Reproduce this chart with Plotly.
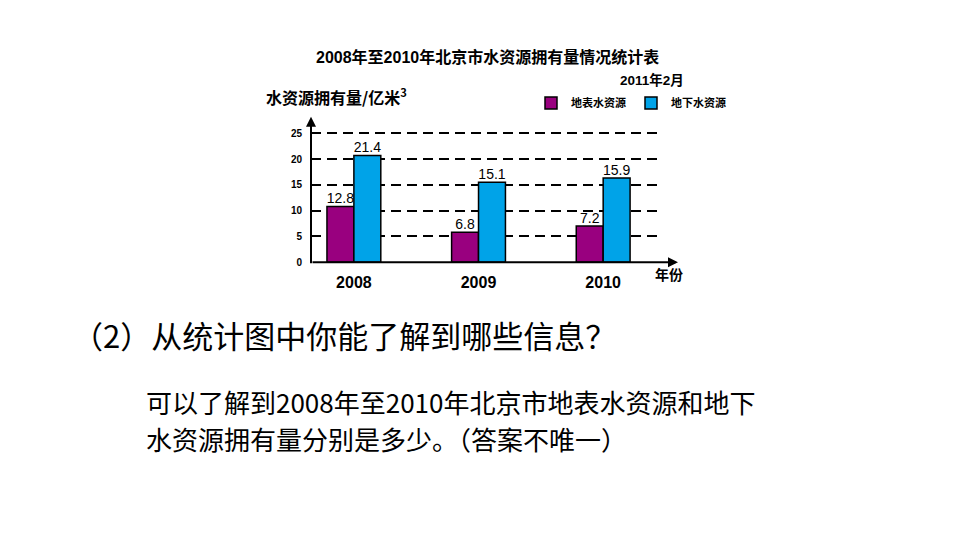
import plotly.graph_objects as go

W, H = 960, 540
# the page body shifts the figure a little from the window corner
OFF_X, OFF_Y = 8, 4

years = ["2008", "2009", "2010"]
# label values printed above the bars
surface_labels = ["12.8", "6.8", "7.2"]
ground_labels = ["21.4", "15.1", "15.9"]
# bar heights as drawn in the source chart
surface_heights = [10.8, 5.8, 7.0]
ground_heights = [20.7, 15.5, 16.3]
y_ticks = [0, 5, 10, 15, 20, 25]

PURPLE = "#99007f"
BLUE = "#00a3e8"
FONT = "Liberation Sans, Noto Sans CJK SC, sans-serif"
CJK = "Noto Sans CJK SC, sans-serif"


def px(x):
    return (x - OFF_X) / W


def py(y):
    return 1 - (y - OFF_Y) / H


x_pos = list(range(len(years)))
bar_w = 0.216

fig = go.Figure()
for name, heights, color, offset in [
    ("地表水资源", surface_heights, PURPLE, -bar_w),
    ("地下水资源", ground_heights, BLUE, 0),
]:
    fig.add_trace(
        go.Bar(
            x=x_pos,
            y=heights,
            width=bar_w,
            offset=offset,
            name=name,
            marker={"color": color, "line": {"color": "black", "width": 1.5}},
        )
    )

# value labels on top of everything
for heights, labels, shift in [
    (surface_heights, surface_labels, -bar_w / 2),
    (ground_heights, ground_labels, bar_w / 2),
]:
    fig.add_trace(
        go.Scatter(
            x=[p + shift for p in x_pos],
            y=heights,
            mode="text",
            text=labels,
            textposition="top center",
            textfont={"family": FONT, "size": 14, "color": "black"},
            showlegend=False,
            hoverinfo="skip",
            cliponaxis=False,
        )
    )

x_range = [-0.344, 2.48]
y_range = [0, 28]

fig.update_layout(
    width=W,
    height=H,
    margin={"l": 0, "r": 0, "t": 0, "b": 0},
    paper_bgcolor="white",
    plot_bgcolor="white",
    barmode="overlay",
    showlegend=True,
    legend={
        "orientation": "h",
        "x": px(531),
        "y": py(100),
        "xanchor": "left",
        "yanchor": "middle",
        "font": {"family": CJK, "size": 11, "color": "black", "weight": "bold"},
        "itemwidth": 30,
        "tracegroupgap": 0,
        "bgcolor": "rgba(0,0,0,0)",
    },
    xaxis={
        "domain": [px(311), px(663)],
        "range": x_range,
        "tickvals": x_pos,
        "ticktext": years,
        "showgrid": False,
        "zeroline": False,
        "showline": False,
        "ticks": "outside",
        "ticklen": 6,
        "tickcolor": "rgba(0,0,0,0)",
        "tickfont": {"family": FONT, "size": 16, "color": "black", "weight": "bold"},
    },
    yaxis={
        "domain": [py(261), py(115)],
        "range": y_range,
        "tickvals": y_ticks,
        "showgrid": True,
        "gridcolor": "black",
        "gridwidth": 1.5,
        "griddash": "10px,6px",
        "zeroline": False,
        "showline": False,
        "ticks": "outside",
        "ticklen": 6,
        "tickcolor": "rgba(0,0,0,0)",
        "tickfont": {"family": FONT, "size": 10, "color": "black", "weight": "bold"},
    },
)

# axes drawn as arrows
fig.add_annotation(
    x=px(678), y=py(261), xref="paper", yref="paper",
    ax=-367, ay=0, showarrow=True, arrowhead=2, arrowsize=1,
    arrowwidth=2, arrowcolor="black", text="",
)
fig.add_annotation(
    x=px(311), y=py(114), xref="paper", yref="paper",
    ax=0, ay=148, showarrow=True, arrowhead=2, arrowsize=1,
    arrowwidth=2, arrowcolor="black", text="",
)

texts = [
    ("2008年至2010年北京市水资源拥有量情况统计表", 487, 54, 16, "center", True, FONT),
    ("2011年2月", 686, 77, 13.5, "right", True, FONT),
    ("水资源拥有量/亿米<sup>3</sup>", 264, 94, 16, "left", True, CJK),
    ("年份", 653, 273, 14, "left", True, CJK),
    ("（2）从统计图中你能了解到哪些信息？", 70, 334, 31, "left", False, CJK),
    ("可以了解到2008年至2010年北京市地表水资源和地下", 144, 402, 26, "left", False, CJK),
    ("水资源拥有量分别是多少。（答案不唯一）", 144, 439, 26, "left", False, CJK),
]
for text, x, y, size, anchor, bold, family in texts:
    fig.add_annotation(
        x=px(x), y=py(y), xref="paper", yref="paper",
        text=text, showarrow=False, xanchor=anchor, yanchor="middle",
        font={"family": family, "size": size, "color": "black",
              "weight": "bold" if bold else "normal"},
    )

fig.write_html("out.html")
